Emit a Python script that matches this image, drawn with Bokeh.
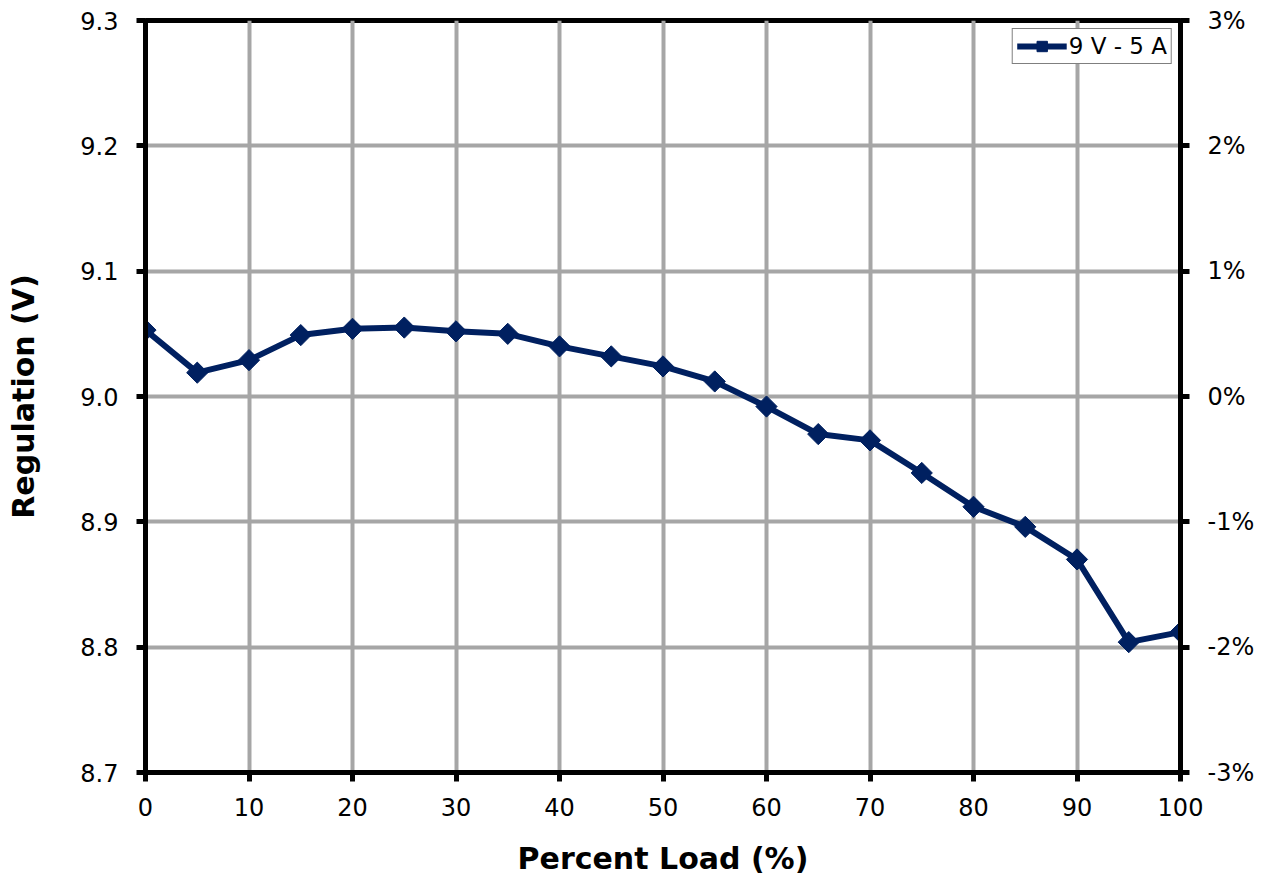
import math
from bokeh.plotting import figure
from bokeh.models import Range1d, LinearAxis, FixedTicker, CustomJSTickFormatter, Legend, LegendItem
from bokeh.embed import file_html
from bokeh.resources import INLINE

load_pct = [0, 5, 10, 15, 20, 25, 30, 35, 40, 45, 50, 55, 60, 65, 70, 75, 80, 85, 90, 95, 100]
regulation_v = [9.053, 9.019, 9.029, 9.049, 9.054, 9.055, 9.052, 9.050, 9.040, 9.032, 9.024,
                9.012, 8.992, 8.970, 8.965, 8.939, 8.912, 8.896, 8.870, 8.804, 8.812]
series_name = "9 V - 5 A"
x_ticks = list(range(0, 101, 10))
y_ticks = [8.7, 8.8, 8.9, 9.0, 9.1, 9.2, 9.3]
pct_ticks = [-3, -2, -1, 0, 1, 2, 3]

FONT = "DejaVu Sans"
NAVY = "#002060"
TICK_FS = "24px"
TITLE_FS = "30px"

p = figure(width=1274, height=878, output_backend="svg", toolbar_location=None,
           x_range=Range1d(0, 100), y_range=Range1d(8.7, 9.3),
           min_border_left=145, min_border_right=94, min_border_top=20, min_border_bottom=106)
p.outline_line_color = "black"
p.outline_line_width = 5

p.extra_y_ranges = {"pct": Range1d(-3, 3)}

def style_axis(ax):
    ax.axis_line_width = 5
    ax.axis_line_color = "black"
    ax.major_tick_line_width = 5
    ax.major_tick_line_color = "black"
    ax.major_tick_out = 9
    ax.major_tick_in = 0
    ax.minor_tick_line_color = None
    ax.major_label_text_font = FONT
    ax.major_label_text_font_size = TICK_FS
    ax.major_label_text_color = "black"
    ax.axis_label_text_font = FONT
    ax.axis_label_text_font_style = "bold"
    ax.axis_label_text_font_size = TITLE_FS
    ax.axis_label_text_color = "black"

style_axis(p.xaxis[0])
style_axis(p.yaxis[0])

p.xaxis.ticker = FixedTicker(ticks=x_ticks)
p.yaxis.ticker = FixedTicker(ticks=y_ticks)
p.yaxis.formatter = CustomJSTickFormatter(code="return tick.toFixed(1);")
p.xaxis.axis_label = "Percent Load (%)"
p.yaxis.axis_label = "Regulation (V)"
p.xaxis.major_label_standoff = 16
p.yaxis.major_label_standoff = 18
p.xaxis.axis_label_standoff = 22
p.yaxis.axis_label_standoff = 36

ax2 = LinearAxis(y_range_name="pct", ticker=FixedTicker(ticks=pct_ticks),
                 formatter=CustomJSTickFormatter(code="return tick.toFixed(0) + '%';"))
style_axis(ax2)
ax2.major_label_standoff = 18
p.add_layout(ax2, "right")

p.xgrid.grid_line_color = "#a6a6a6"
p.ygrid.grid_line_color = "#a6a6a6"
p.xgrid.grid_line_width = 4
p.ygrid.grid_line_width = 4

ln = p.line(load_pct, regulation_v, line_color=NAVY, line_width=6)
mk = p.scatter(load_pct, regulation_v, marker="square", angle=math.pi / 4, size=15,
               fill_color=NAVY, line_color=NAVY)

legend = Legend(items=[LegendItem(label=series_name, renderers=[ln, mk])], location="top_right")
legend.label_text_font = FONT
legend.label_text_font_size = "23px"
legend.label_text_color = "black"
legend.border_line_color = "black"
legend.border_line_width = 1
legend.padding = 4
legend.margin = 8
legend.spacing = 0
legend.glyph_width = 50
legend.glyph_height = 26
legend.label_standoff = 2
legend.label_height = 26
legend.background_fill_alpha = 1
p.add_layout(legend)

open("out.html", "w").write(file_html(p, INLINE))
